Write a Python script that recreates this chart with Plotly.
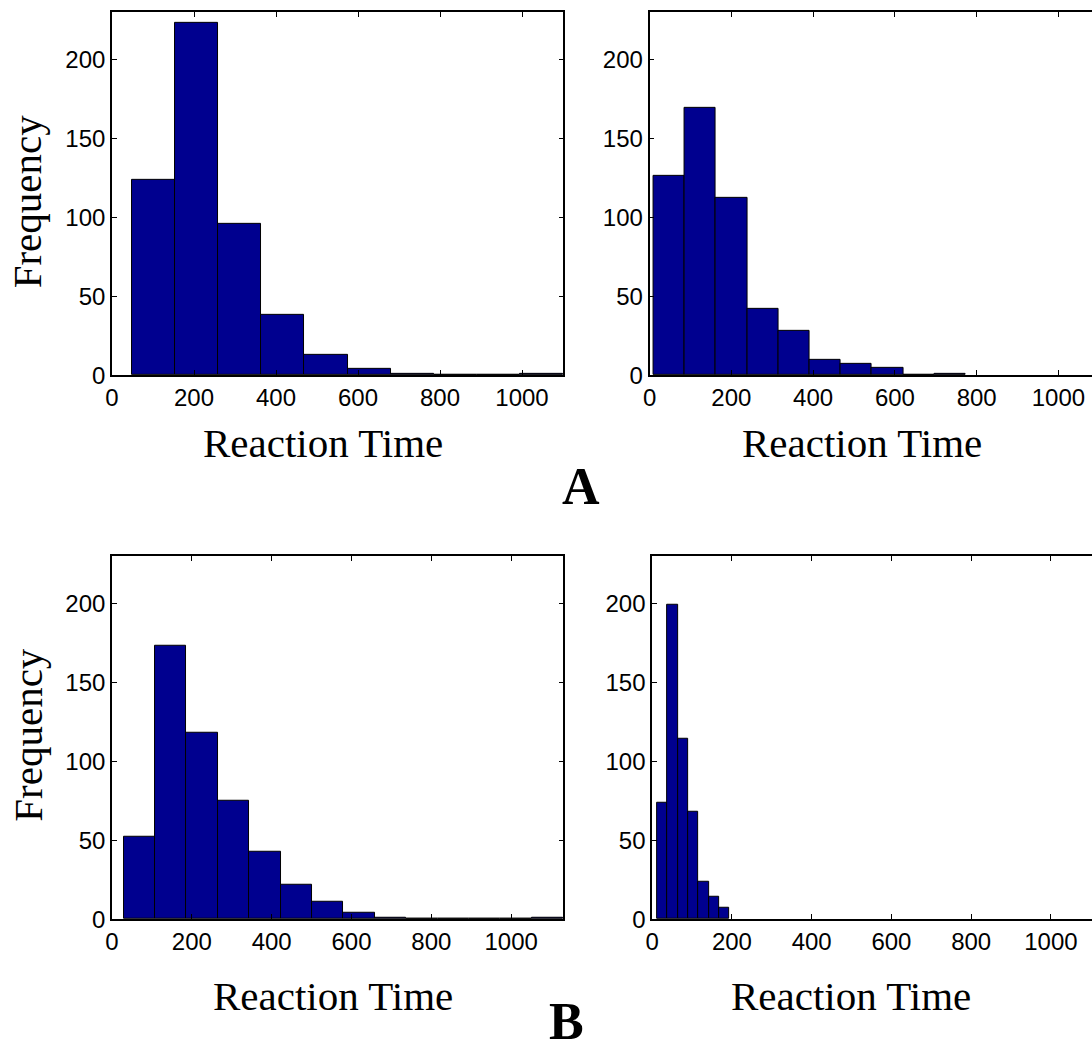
import plotly.graph_objects as go

# ---------------- data ----------------
# Panel A, left: bin edges and counts
a_left_edges = [48.5, 153.8, 259.0, 364.3, 469.5, 574.8, 680.0, 785.3, 890.5, 995.8, 1101.0]
a_left_counts = [124, 223, 96, 38, 13, 4, 1, 0, 0, 1]

# Panel A, right
a_right_edges = [9.7, 86.0, 162.3, 238.6, 314.9, 391.2, 467.5, 543.8, 620.1, 696.4, 772.7]
a_right_counts = [126, 169, 112, 42, 28, 10, 7, 5, 0, 1]

# Panel B, left
b_left_edges = [28.9, 107.6, 186.3, 265.0, 343.7, 422.4, 501.1, 579.8, 658.5, 737.2,
                815.9, 894.6, 973.3, 1052.0, 1130.7]
b_left_counts = [52, 173, 118, 75, 43, 22, 11, 4, 1, 0, 0, 0, 0, 1]

# Panel B, right
b_right_edges = [12.5, 38.5, 64.4, 90.4, 116.4, 142.4, 168.3, 194.3]
b_right_counts = [74, 199, 114, 68, 24, 14, 7]

x_ticks = [0, 200, 400, 600, 800, 1000]
y_ticks = [0, 50, 100, 150, 200]
x_title = "Reaction Time"
y_title = "Frequency"
panel_labels = ["A", "B"]

# ---------------- layout helpers ----------------
W, H = 1092, 1054
BAR_COLOR = "#00008F"
SANS = "Liberation Sans, Arial, sans-serif"
SERIF = "Liberation Serif, Times New Roman, serif"


def px(x):
    return x / W


def py(y):
    return 1 - y / H


panels = [
    # edges, counts, (left px, right px), (top px, bottom px), xrange max, cut at right
    (a_left_edges, a_left_counts, (105.7, 560.0), (12.0, 380.0), 1101.0, False),
    (a_right_edges, a_right_counts, (646.7, 1092.0), (12.0, 380.0), 1082.0, True),
    (b_left_edges, b_left_counts, (105.7, 560.0), (562.7, 930.7), 1131.0, False),
    (b_right_edges, b_right_counts, (649.3, 1092.0), (562.7, 930.7), 1103.0, True),
]

fig = go.Figure()
layout = dict(
    width=W, height=H,
    margin=dict(l=0, r=0, t=0, b=0),
    paper_bgcolor="white", plot_bgcolor="white",
    showlegend=False,
    bargap=0,
)

for i, (edges, counts, (xl, xr), (yt, yb), xmax, cut) in enumerate(panels, start=1):
    centers = [(edges[k] + edges[k + 1]) / 2 for k in range(len(counts))]
    widths = [edges[k + 1] - edges[k] for k in range(len(counts))]
    suffix = "" if i == 1 else str(i)
    fig.add_trace(go.Bar(
        x=centers, y=counts, width=widths,
        marker=dict(color=BAR_COLOR, line=dict(color="black", width=1)),
        xaxis="x" + suffix, yaxis="y" + suffix,
        hoverinfo="skip",
    ))
    common = dict(
        showline=True, linecolor="black", linewidth=1.7,
        ticks="inside", ticklen=5, tickwidth=1, tickcolor="black",
        showgrid=False, zeroline=False,
        tickfont=dict(family=SANS, size=24, color="black"),
    )
    layout["xaxis" + suffix] = dict(
        common, domain=[px(xl), px(xr)], range=[0, xmax], mirror="ticks",
        tickvals=x_ticks, ticktext=[str(v) for v in x_ticks],
        anchor="y" + suffix,
    )
    layout["yaxis" + suffix] = dict(
        common, domain=[py(yb), py(yt)], range=[0, 230],
        mirror=False if cut else "ticks",
        tickvals=y_ticks, ticktext=[str(v) for v in y_ticks],
        anchor="x" + suffix,
    )

annotations = []
# y titles
for yc in (204, 744):
    annotations.append(dict(
        text=y_title, x=px(21), y=py(yc), xref="paper", yref="paper",
        xanchor="center", yanchor="middle", textangle=-90, showarrow=False,
        font=dict(family=SERIF, size=41, color="black"),
    ))
# x titles
for xc, yc in ((318, 449), (861, 449), (328, 1008), (849, 1008)):
    annotations.append(dict(
        text=x_title, x=px(xc), y=py(yc), xref="paper", yref="paper",
        xanchor="center", yanchor="middle", showarrow=False,
        font=dict(family=SERIF, size=41, color="black"),
    ))
# panel labels
for lab, xc, yc in ((panel_labels[0], 578, 493), (panel_labels[1], 563, 1034)):
    annotations.append(dict(
        text="<b>" + lab + "</b>", x=px(xc), y=py(yc), xref="paper", yref="paper",
        xanchor="center", yanchor="middle", showarrow=False,
        font=dict(family=SERIF, size=52, color="black"),
    ))
layout["annotations"] = annotations

fig.update_layout(**layout)
fig.write_html("out.html")
